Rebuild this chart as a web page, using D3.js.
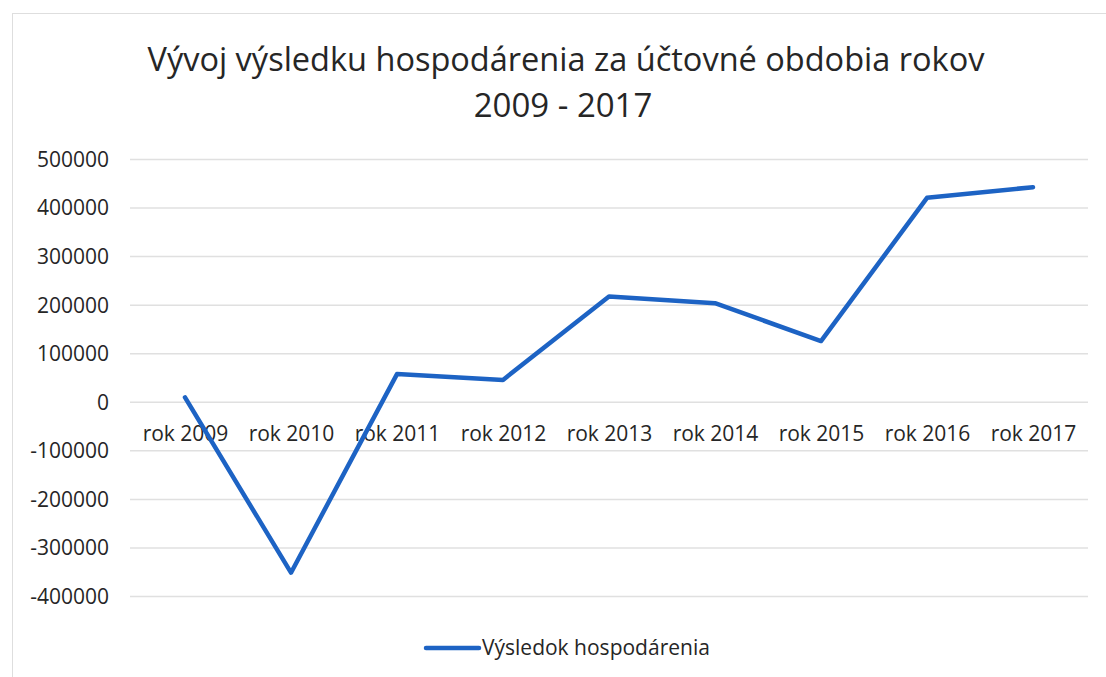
<!DOCTYPE html>
<html>
<head>
<meta charset="utf-8">
<script src="https://cdn.jsdelivr.net/npm/d3@7"></script>
<style>
  body { margin: 0; background: #fff; }
  text { font-family: "Open Sans", sans-serif; fill: #262626; }
</style>
</head>
<body>
<div id="chart"></div>
<script>
// data
const years = ["rok 2009", "rok 2010", "rok 2011", "rok 2012", "rok 2013", "rok 2014", "rok 2015", "rok 2016", "rok 2017"];
const results = [9000, -352000, 57000, 45000, 217000, 203000, 125000, 420000, 442000];
const yTicks = [500000, 400000, 300000, 200000, 100000, 0, -100000, -200000, -300000, -400000];
const titleLines = ["Vývoj výsledku hospodárenia za účtovné obdobia rokov", "2009 - 2017"];
const seriesName = "Výsledok hospodárenia";

const W = 1106, H = 677;
const lineColor = "#1d63c4";

const svg = d3.select("#chart").append("svg")
    .attr("width", W)
    .attr("height", H);

// chart area border
svg.append("rect")
    .attr("x", 12.5).attr("y", 13.5)
    .attr("width", W).attr("height", H)
    .attr("fill", "none")
    .attr("stroke", "#dedede");

const x = d3.scalePoint()
    .domain(years)
    .range([132, 1086])
    .padding(0.5);

const y = d3.scaleLinear()
    .domain([-400000, 500000])
    .range([596, 159]);

// gridlines
svg.append("g")
    .selectAll("line")
    .data(yTicks)
    .enter()
    .append("line")
    .attr("x1", 130).attr("x2", 1088)
    .attr("y1", d => y(d) + 0.5).attr("y2", d => y(d) + 0.5)
    .attr("stroke", "#e0e0e0")
    .attr("stroke-width", 1.5);

// y axis
const yAxis = svg.append("g")
    .attr("transform", "translate(109,0)")
    .call(d3.axisLeft(y).tickValues(yTicks).tickSize(0).tickPadding(0).tickFormat(d => String(d)));
yAxis.select(".domain").remove();
yAxis.selectAll("text")
    .style("font-family", "Open Sans, sans-serif")
    .style("font-size", "21px")
    .attr("fill", "#262626")
    .attr("dy", "0.35em");

// x axis labels sit just below the zero line
const xAxis = svg.append("g")
    .attr("transform", `translate(0,${y(0)})`)
    .call(d3.axisBottom(x).tickSize(0).tickPadding(24));
xAxis.select(".domain").remove();
xAxis.selectAll("text")
    .style("font-family", "Open Sans, sans-serif")
    .style("font-size", "21px")
    .attr("fill", "#262626");

// series line
const line = d3.line()
    .x((d, i) => x(years[i]))
    .y(d => y(d));

svg.append("path")
    .datum(results)
    .attr("d", line)
    .attr("fill", "none")
    .attr("stroke", lineColor)
    .attr("stroke-width", 4.5)
    .attr("stroke-linejoin", "round")
    .attr("stroke-linecap", "round");

// title: narrow face in the reference, so squeeze to its width
svg.append("text")
    .attr("x", 566).attr("y", 71)
    .attr("text-anchor", "middle")
    .style("font-size", "33px")
    .attr("textLength", 837)
    .attr("lengthAdjust", "spacingAndGlyphs")
    .text(titleLines[0]);
svg.append("text")
    .attr("x", 563).attr("y", 117)
    .attr("text-anchor", "middle")
    .style("font-size", "33px")
    .text(titleLines[1]);

// legend
svg.append("line")
    .attr("x1", 426).attr("x2", 479)
    .attr("y1", 648).attr("y2", 648)
    .attr("stroke", lineColor)
    .attr("stroke-width", 4.5)
    .attr("stroke-linecap", "round");
svg.append("text")
    .attr("x", 482).attr("y", 655)
    .style("font-size", "21px")
    .text(seriesName);
</script>
</body>
</html>
